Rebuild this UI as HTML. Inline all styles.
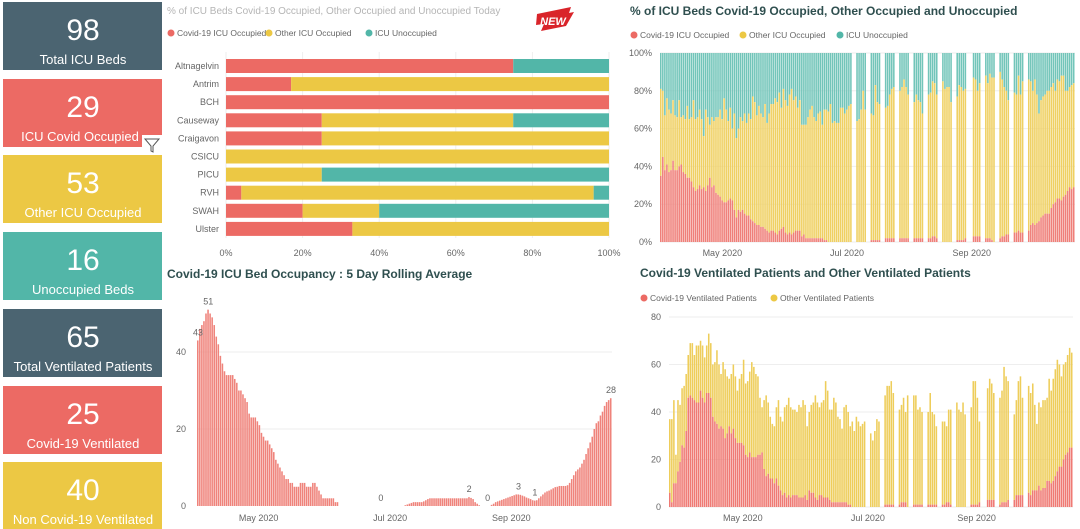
<!DOCTYPE html>
<html><head><meta charset="utf-8"><style>
html,body{margin:0;padding:0;background:#fff;}
svg{display:block;font-family:"Liberation Sans",sans-serif;}
.kn{font-family:"Liberation Sans Narrow","Liberation Sans",sans-serif;fill:#fff;}
.tk{fill:#666;font-size:9px;}
.ttl{fill:#2f4f4f;font-size:12px;font-weight:bold;}
.lg{fill:#666;font-size:8.5px;}
</style></head><body>
<svg id="s" width="1080" height="529" viewBox="0 0 1080 529">
<g><rect x="3" y="2" width="159" height="68" fill="#4b6471"/><text class="kn" x="83" y="40" text-anchor="middle" font-size="30">98</text><text class="kn" x="83" y="64" text-anchor="middle" font-size="13">Total ICU Beds</text></g>
<g><rect x="3" y="79" width="159" height="68" fill="#ec6a64"/><text class="kn" x="83" y="117" text-anchor="middle" font-size="30">29</text><text class="kn" x="80" y="141" text-anchor="middle" font-size="13">ICU Covid Occupied</text></g>
<g><rect x="142" y="135" width="20" height="20" fill="#fff"/><path d="M145 139 L159 139 L153 146 L153 152 L151 151 L151 146 Z" fill="none" stroke="#555" stroke-width="1"/></g>
<g><rect x="3" y="155" width="159" height="68" fill="#ecc844"/><text class="kn" x="83" y="193" text-anchor="middle" font-size="30">53</text><text class="kn" x="83" y="217" text-anchor="middle" font-size="13">Other ICU Occupied</text></g>
<g><rect x="3" y="232" width="159" height="68" fill="#52b6a8"/><text class="kn" x="83" y="270" text-anchor="middle" font-size="30">16</text><text class="kn" x="83" y="294" text-anchor="middle" font-size="13">Unoccupied Beds</text></g>
<g><rect x="3" y="309" width="159" height="68" fill="#4b6471"/><text class="kn" x="83" y="347" text-anchor="middle" font-size="30">65</text><text class="kn" x="83" y="371" text-anchor="middle" font-size="13">Total Ventilated Patients</text></g>
<g><rect x="3" y="386" width="159" height="68" fill="#ec6a64"/><text class="kn" x="83" y="424" text-anchor="middle" font-size="30">25</text><text class="kn" x="83" y="448" text-anchor="middle" font-size="13">Covid-19 Ventilated</text></g>
<g><rect x="3" y="462" width="159" height="67" fill="#ecc844"/><text class="kn" x="83" y="500" text-anchor="middle" font-size="30">40</text><text class="kn" x="83" y="524" text-anchor="middle" font-size="13">Non Covid-19 Ventilated</text></g>

<text x="167" y="14" fill="#b5b5b5" font-size="10">% of ICU Beds Covid-19 Occupied, Other Occupied and Unoccupied Today</text>
<g><path d="M537 14 L571 7 L569 13 L574 12 L566 26 L541 31 L544 24 L536 25 Z" fill="#d9242a"/><text x="553" y="25" fill="#fff" font-size="11" font-weight="bold" font-style="italic" text-anchor="middle">NEW</text></g>
<g>
<circle cx="171" cy="33" r="3.5" fill="#ec6a64"/><text class="lg" x="177" y="36">Covid-19 ICU Occupied</text>
<circle cx="269" cy="33" r="3.5" fill="#ecc844"/><text class="lg" x="275" y="36">Other ICU Occupied</text>
<circle cx="369" cy="33" r="3.5" fill="#52b6a8"/><text class="lg" x="375" y="36">ICU Unoccupied</text></g>
<g id="tl"></g>

<text class="ttl" x="630" y="15">% of ICU Beds Covid-19 Occupied, Other Occupied and Unoccupied</text>
<g>
<circle cx="634" cy="35" r="3.5" fill="#ec6a64"/><text class="lg" x="640" y="38">Covid-19 ICU Occupied</text>
<circle cx="743" cy="35" r="3.5" fill="#ecc844"/><text class="lg" x="749" y="38">Other ICU Occupied</text>
<circle cx="840" cy="35" r="3.5" fill="#52b6a8"/><text class="lg" x="846" y="38">ICU Unoccupied</text></g>
<g id="tr"></g>

<text class="ttl" x="167" y="278">Covid-19 ICU Bed Occupancy : 5 Day Rolling Average</text>
<g id="bl"></g>

<text class="ttl" x="640" y="277" fill="#3c5a64">Covid-19 Ventilated Patients and Other Ventilated Patients</text>
<g>
<circle cx="644" cy="298" r="3.5" fill="#ec6a64"/><text class="lg" x="650" y="301">Covid-19 Ventilated Patients</text>
<circle cx="774" cy="298" r="3.5" fill="#ecc844"/><text class="lg" x="780" y="301">Other Ventilated Patients</text></g>
<g id="br"></g>
</svg>
<script>
const hospitals=["Altnagelvin","Antrim","BCH","Causeway","Craigavon","CSICU","PICU","RVH","SWAH","Ulster"];
const todayCovid=[75,17,100,25,25,0,0,4,20,33];
const todayOther=[0,83,0,50,75,100,25,92,20,67];
const todayUnocc=[25,0,0,25,0,0,75,4,60,0];
const pctTicks=["0%","20%","40%","60%","80%","100%"];

const trCovid=[35,45,38,41,37,38,43,38,38,40,41,37,36,34,
34,32,29,27,28,30,28,29,27,30,34,29,30,26,
25,24,22,21,21,22,23,22,17,13,17,16,17,15,
14,14,12,11,10,9,9,8,8,7,6,5,6,6,
5,4,6,7,8,5,4,5,4,5,6,6,6,3,
4,2,2,2,2,2,2,2,2,2,1,1,0,0,
0,0,0,0,0,0,0,0,0,0,
null,null,0,0,0,0,0,null,null,1,1,1,1,1,null,null,2,2,2,2,2,null,null,2,2,2,2,2,null,null,2,2,2,2,2,
null,null,2,2,3,3,2,null,null,0,0,0,0,0,null,null,1,1,1,1,2,null,null,null,3,3,3,3,null,null,2,2,2,1,0,
null,null,2,3,3,4,4,null,null,5,5,6,5,5,null,null,
6,9,10,9,10,11,13,14,15,15,15,18,20,21,23,23,22,24,25,27,29,28,29];
const trOther=[46,35,29,35,33,30,32,29,28,35,25,30,29,38,
31,34,46,38,38,40,37,27,43,36,28,37,34,40,
41,46,43,55,49,42,48,38,51,42,43,50,47,53,
49,54,53,66,64,58,63,60,58,66,57,63,67,67,
71,70,73,64,73,70,68,73,77,70,71,65,69,59,
58,60,64,68,70,64,62,66,67,60,69,69,69,73,
63,64,63,63,71,71,68,70,72,73,
null,null,64,65,70,80,70,null,null,67,66,82,73,72,null,null,69,70,76,79,80,null,null,78,80,84,80,76,null,null,72,76,73,72,66,
null,null,76,77,82,81,76,null,null,85,81,82,82,74,null,null,76,82,81,79,79,null,null,null,84,83,77,81,null,null,86,82,87,86,87,
null,null,88,83,79,76,71,null,null,74,73,82,73,80,null,null,
80,76,70,77,68,57,62,63,63,65,65,64,64,59,63,62,66,64,55,53,53,55,55];
const monthTicks=["May 2020","Jul 2020","Sep 2020"];

const rolling=[43,46,47,48,50,51,50,49,47,44,42,39,37,35,
34,34,34,34,33,32,30,30,29,28,27,24,23,23,
23,22,21,19,18,17,17,16,15,14,12,11,10,9,
8,7,7,6,6,5,5,5,6,6,6,5,5,5,
6,6,5,4,3,2,2,2,2,2,2,1,1,0,
0,0,0,0,0,0,0,0,0,0,0,0,0,0,0,0,0,
0,0,0,0,0,0,0,0,0,0,0,0,0,0,
0.2,0.4,0.6,0.8,1,1,1,1,1,1.2,1.5,1.8,2,2,
2,2,2,2,2,2,2,2,2,2,2,2,2,2,2,2,2,
2.3,2.1,1.8,1,0.6,0.2,
0,0,0,0,0,0.3,0.6,1,
1.2,1.4,1.6,1.8,2,2.2,2.4,2.6,2.8,3,3,
2.9,2.7,2.5,2.2,2,1.8,1.5,1.4,1.5,
2,2.5,3,3.5,3.8,4,4.3,4.6,4.9,5,5.2,5.2,5.2,5.2,5.4,
6,7,8,9,9.5,10,11,12,13.5,15,16.5,18,20,21.5,22,23.5,24.5,26,27,27.5,28];
const rollingLabelDays=[0,5,89,132,141,156,164,201];
const rollingLabels=["43","51","0","2","0","3","1","28"];
const rollingTicks=[0,20,40];

const ventCovid=[6,2,10,10,15,19,26,25,32,46,47,46,45,44,
44,49,46,44,48,48,46,38,36,35,33,34,33,29,
31,34,31,33,29,27,27,27,26,22,21,23,21,21,
21,22,22,23,16,13,14,12,12,10,12,9,7,5,
6,4,5,4,5,5,5,4,4,4,5,3,7,6,
6,4,3,5,5,4,4,4,3,2,2,2,2,2,
2,2,2,1,1,0,0,0,0,0,0,0,
null,null,0,0,0,0,0,null,null,1,1,1,1,1,null,null,1,2,2,2,0,null,null,1,1,1,1,1,null,null,1,1,1,1,1,
null,null,1,1,2,2,1,null,null,0,0,0,0,0,null,null,1,1,1,1,2,null,null,null,3,3,3,3,null,null,1,2,2,2,3,
null,null,3,5,5,5,5,null,null,
6,5,7,7,7,9,7,8,8,11,11,10,11,13,15,17,17,20,22,23,25,25];
const ventTotal=[37,37,45,22,45,43,50,51,56,64,69,69,64,68,
68,70,68,63,68,73,69,60,61,66,60,56,61,58,
55,54,56,60,55,49,54,56,62,52,53,57,61,59,
56,55,46,42,45,47,44,38,35,34,42,45,38,36,
42,43,46,42,41,41,40,43,42,45,43,34,40,43,
44,47,44,42,44,45,53,49,41,41,46,44,38,37,
33,42,43,40,34,36,32,38,36,34,35,36,
null,null,31,28,32,37,36,null,null,47,51,51,53,48,null,null,41,43,46,40,47,null,null,47,47,41,42,40,null,null,40,48,40,39,34,
null,null,36,36,34,41,41,null,null,44,41,40,44,39,null,null,42,53,53,46,36,null,null,null,50,54,52,48,null,null,46,49,59,55,53,
null,null,39,45,53,55,46,null,null,
51,48,52,43,35,44,42,45,45,46,54,49,54,58,62,60,55,60,61,64,67,65];
const ventTicks=[0,20,40,60,80];

const NS="http://www.w3.org/2000/svg";
function mk(parent,tag,attrs){const e=document.createElementNS(NS,tag);for(const k in attrs)e.setAttribute(k,attrs[k]);parent.appendChild(e);return e;}

(function(){
const g=document.getElementById('tl');
const x=p=>226+p*3.83, y=i=>59+i*18.1;
pctTicks.forEach((t,i)=>{const l=mk(g,'line',{x1:x(i*20),x2:x(i*20),y1:52,y2:238,stroke:'#eee'});

const tx=mk(g,'text',{x:x(i*20),y:256,'text-anchor':'middle',class:'tk'});tx.textContent=t;
});
hospitals.forEach((h,i)=>{
const lb=mk(g,'text',{x:219,y:y(i)+10,'text-anchor':'end',class:'tk'});lb.textContent=h;

let acc=0;[[todayCovid,'#ec6a64'],[todayOther,'#ecc844'],[todayUnocc,'#52b6a8']].forEach(([arr,c])=>{
const v=arr[i];if(v>0){const r=mk(g,'rect',{x:x(acc),y:y(i),width:x(acc+v)-x(acc),height:14,fill:c});
}acc+=v;});
});
})();

(function(){
const g=document.getElementById('tr');
const N=203, x=i=>660+i*415/N, y=p=>242-p*1.89, w=1.55;
pctTicks.forEach((t,i)=>{const l=mk(g,'line',{x1:660,x2:1075,y1:y(i*20),y2:y(i*20),stroke:'#eee'});

const tx=mk(g,'text',{x:652,y:y(i*20)+3,'text-anchor':'end',class:'tk'});tx.textContent=t;
});
for(let i=0;i<N;i++){if(trCovid[i]==null)continue;const c=trCovid[i],o=trOther[i];
const r1=mk(g,'rect',{x:x(i),y:y(100),width:w,height:y(c+o)-y(100),fill:'#72c5b9'});
const r2=mk(g,'rect',{x:x(i),y:y(c+o),width:w,height:y(c)-y(c+o),fill:'#efd062'});
const r3=mk(g,'rect',{x:x(i),y:y(c),width:w,height:y(0)-y(c),fill:'#ef7f79'});}
[30,91,152].forEach((d,i)=>{const tx=mk(g,'text',{x:x(d)+1,y:256,'text-anchor':'middle',class:'tk'});tx.textContent=monthTicks[i];
});
})();

(function(){
const g=document.getElementById('bl');
const N=202, x=i=>197+i*415/N, y=v=>506-v*3.85, w=1.55;
rollingTicks.forEach(t=>{if(t>0){const l=mk(g,'line',{x1:197,x2:612,y1:y(t),y2:y(t),stroke:'#eee'});}
const tx=mk(g,'text',{x:186,y:y(t)+3,'text-anchor':'end',class:'tk'});tx.textContent=t;
});
rolling.forEach((v,i)=>{if(v<=0)return;const r=mk(g,'rect',{x:x(i),y:y(v),width:w,height:y(0)-y(v),fill:'#ef837b'});
});
rollingLabelDays.forEach((d,k)=>{const tx=mk(g,'text',{x:x(d)+1,y:y(rolling[d])-5,'text-anchor':'middle',fill:'#666','font-size':'9'});tx.textContent=rollingLabels[k];
});
[30,94,153].forEach((d,i)=>{const tx=mk(g,'text',{x:x(d),y:521,'text-anchor':'middle',class:'tk'});tx.textContent=monthTicks[i];
});
})();

(function(){
const g=document.getElementById('br');
const N=197, x=i=>669+i*404/N, y=v=>507-v*2.375, w=1.55;
ventTicks.forEach(t=>{const l=mk(g,'line',{x1:669,x2:1073,y1:y(t),y2:y(t),stroke:'#eee'});
const tx=mk(g,'text',{x:661,y:y(t)+3,'text-anchor':'end',class:'tk'});tx.textContent=t;
});
for(let i=0;i<N;i++){if(ventTotal[i]==null)continue;const c=ventCovid[i],t=ventTotal[i];
const r2=mk(g,'rect',{x:x(i),y:y(t),width:w,height:y(c)-y(t),fill:'#eecd5a'});
const r3=mk(g,'rect',{x:x(i),y:y(c),width:w,height:y(0)-y(c),fill:'#ef7a74'});}
[36,97,150].forEach((d,i)=>{const tx=mk(g,'text',{x:x(d),y:521,'text-anchor':'middle',class:'tk'});tx.textContent=monthTicks[i];
});
})();
</script>
</body></html>
